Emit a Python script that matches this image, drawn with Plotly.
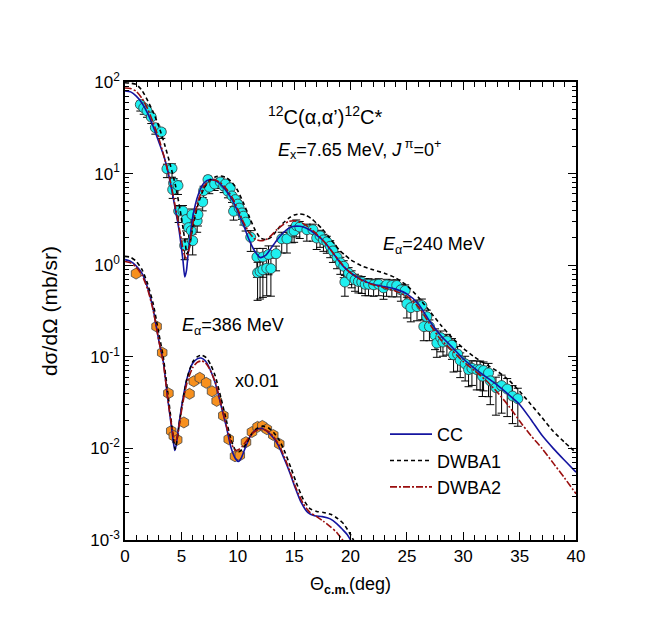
import numpy as np
import plotly.graph_objects as go

# ---------------- data: E_alpha = 240 MeV (experimental) ----------------
theta_240 = [1.36, 1.66, 1.95, 2.33, 2.69, 3.22, 3.72, 4.17, 4.23, 4.31, 4.70, 4.76, 5.14, 5.29,
             5.41, 5.64, 5.88, 5.94, 6.00, 6.40, 6.47, 6.89, 6.97, 7.36, 7.48, 7.95, 8.45, 8.75,
             8.90, 9.13, 9.34, 9.49, 9.63, 9.78, 10.0, 10.13, 10.37, 10.5, 10.7, 11.15, 11.70,
             11.76, 11.98, 12.23, 12.23, 12.57, 12.73, 12.94, 13.40, 13.9, 14.36, 14.8, 15.0,
             15.19, 15.5, 16.13, 16.67, 17.0, 17.3, 17.6, 17.9, 18.2, 18.44, 18.8, 19.1, 19.4,
             19.5, 19.83, 20.1, 20.4, 20.7, 21.0, 21.3, 21.6, 22.05, 22.5, 22.93, 23.2, 23.67,
             24.1, 24.47, 24.85, 25.0, 25.35, 25.9, 26.33, 26.5, 26.77, 27.0, 27.5, 27.66, 28.0,
             28.2, 28.55, 29.0, 29.14, 29.5, 29.73, 30.17, 30.47, 30.77, 31.2, 31.5, 31.7, 31.8,
             32.24, 32.4, 32.9, 33.4, 33.9, 34.37, 34.84]
xs_240 = [56.7, 52.3, 48.5, 41.4, 31.7, 28.5, 11.3, 11.4, 6.7, 7.9, 7.4, 3.9, 3.9, 1.64,
          3.15, 2.57, 2.38, 3.57, 1.85, 3.05, 3.57, 4.9, 6.5, 8.6, 7.1, 7.7, 8.1, 7.3,
          7.7, 6.4, 7.0, 5.7, 3.88, 5.2, 4.65, 4.2, 3.72, 3.43, 2.95, 2.02, 1.23,
          0.827, 0.855, 0.891, 1.23, 0.927, 1.31, 0.918, 1.335, 1.94, 1.94, 2.34, 2.37,
          2.71, 2.61, 2.44, 2.44, 1.98, 2.09, 1.89, 1.80, 1.61, 1.43, 1.22, 1.06, 0.973,
          0.655, 0.818, 0.755, 0.692, 0.664, 0.655, 0.619, 0.619, 0.61, 0.619, 0.566, 0.61, 0.601,
          0.601, 0.539, 0.53, 0.379, 0.344, 0.353, 0.362, 0.214, 0.274, 0.214, 0.171, 0.141, 0.162,
          0.145, 0.149, 0.134, 0.105, 0.107, 0.0912, 0.0838, 0.0725, 0.0749, 0.0725, 0.0725,
          0.0614, 0.0708, 0.0667, 0.0546, 0.0461, 0.0485, 0.0445, 0.0373, 0.0349]
# relative uncertainty (fraction) of each point
relerr_240 = [0.15, 0.15, 0.15, 0.15, 0.15, 0.15, 0.2, 0.2, 0.2, 0.2, 0.2, 0.25, 0.25, 0.3,
              0.25, 0.25, 0.25, 0.25, 0.3, 0.25, 0.25, 0.2, 0.2, 0.15, 0.15, 0.15, 0.15, 0.15,
              0.15, 0.15, 0.15, 0.15, 0.2, 0.15, 0.15, 0.15, 0.15, 0.2, 0.2, 0.3, 0.4,
              0.5, 0.5, 0.5, 0.4, 0.5, 0.4, 0.5, 0.35, 0.3, 0.3, 0.25, 0.25,
              0.25, 0.25, 0.25, 0.25, 0.25, 0.25, 0.25, 0.25, 0.25, 0.25, 0.25, 0.25, 0.25,
              0.3, 0.25, 0.25, 0.25, 0.25, 0.25, 0.25, 0.25, 0.25, 0.25, 0.25, 0.25, 0.25,
              0.25, 0.25, 0.25, 0.3, 0.3, 0.3, 0.3, 0.3, 0.3, 0.3, 0.3, 0.3, 0.3,
              0.3, 0.3, 0.3, 0.35, 0.35, 0.35, 0.35, 0.35, 0.35, 0.4, 0.4, 0.4, 0.4,
              0.45, 0.45, 0.5, 0.5, 0.5, 0.5, 0.5]

# ---------------- data: E_alpha = 386 MeV (x0.01) ----------------
theta_386 = [0.98, 2.8, 3.3, 3.85, 4.1, 4.33, 4.63, 5.22, 5.72, 6.1, 6.63, 7.2, 7.72, 8.13,
             8.72, 9.2, 9.76, 10.18, 10.73, 11.26, 11.76, 12.18, 12.58, 13.15, 13.68]
xs_386 = [0.81, 0.214, 0.111, 0.040, 0.0155, 0.0137, 0.0124, 0.0192, 0.0394, 0.054, 0.059,
          0.052, 0.042, 0.033, 0.0228, 0.0126, 0.0082, 0.0084, 0.0117, 0.0151, 0.0172,
          0.0176, 0.0162, 0.0140, 0.0112]

# ---------------- calculations, 240 MeV ----------------
cc240_x = [0, 0.5, 1, 1.5, 2, 2.5, 3, 3.5, 4, 4.5, 4.8, 5.0, 5.15, 5.3, 5.45, 5.6, 5.8, 6, 6.5,
           7, 7.5, 8, 8.5, 9, 9.5, 10, 10.5, 11, 11.5, 12, 12.5, 13, 13.5, 14, 14.5, 15, 15.5,
           16, 16.5, 17, 17.5, 18, 18.5, 19, 19.5, 20, 21, 22, 23, 24, 25, 26, 27, 28, 29, 30,
           31, 32, 33, 34, 35, 36, 37, 38, 39, 40]
cc240_y = [80, 78, 70, 59, 45.8, 32.8, 22.1, 14.8, 8.2, 3.87, 2.39, 1.56, 1.1, 0.745, 0.874,
           1.335, 2.19, 3.33, 5.9, 7.9, 8.6, 8.4, 7.6, 6.4, 5.2, 3.87, 2.76, 1.9, 1.43, 1.21,
           1.29, 1.56, 1.9, 2.23, 2.52, 2.66, 2.66, 2.57, 2.38, 2.13, 1.9, 1.61, 1.335, 1.1,
           0.936, 0.827, 0.692, 0.619, 0.584, 0.548, 0.486, 0.379, 0.248, 0.171, 0.128, 0.0952,
           0.0749, 0.0606, 0.0493, 0.0389, 0.0302, 0.0207, 0.0138, 0.00995, 0.00737, 0.0055]

dw1_240_x = [0, 0.5, 1, 1.5, 2, 2.5, 3, 3.5, 4, 4.5, 5, 5.3, 5.5, 5.7, 6, 6.5, 7, 7.5, 8, 8.5,
             9, 9.5, 10, 10.5, 11, 11.5, 12, 12.5, 13, 13.5, 14, 14.5, 15, 15.5, 16, 16.5, 17,
             17.5, 18, 18.5, 19, 19.5, 20, 21, 22, 23, 24, 25, 26, 27, 28, 29, 30, 31, 32, 33, 34,
             35, 36, 37, 38, 39, 40]
dw1_240_y = [98, 97, 94, 81, 63, 46.9, 32.8, 21.1, 12.7, 7.2, 3.33, 1.9, 1.335, 1.52, 2.57, 4.7,
             6.9, 8.4, 9.2, 9.4, 9.0, 8.0, 6.5, 4.8, 3.43, 2.48, 1.99, 1.9, 2.04, 2.43, 2.86, 3.25,
             3.53, 3.63, 3.53, 3.25, 2.86, 2.48, 2.09, 1.76, 1.47, 1.29, 1.15, 0.982, 0.892, 0.818,
             0.728, 0.601, 0.449, 0.318, 0.223, 0.162, 0.124, 0.0994, 0.0828, 0.0699, 0.0562,
             0.042, 0.0302, 0.0216, 0.0153, 0.0116, 0.009]

dw2_240_x = [0, 0.5, 1, 1.5, 2, 2.5, 3, 3.5, 4, 4.5, 5, 5.2, 5.4, 5.6, 5.8, 6, 6.5, 7, 7.5, 8,
             8.5, 9, 9.5, 10, 10.5, 11, 11.5, 12, 12.5, 13, 13.5, 14, 14.5, 15, 15.5, 16, 16.5,
             17, 17.5, 18, 18.5, 19, 19.5, 20, 21, 22, 23, 24, 25, 26, 27, 28, 29, 30, 31, 32, 33,
             34, 35, 36, 37, 38, 39, 40]
dw2_240_y = [86, 85, 79, 66.5, 51.2, 36, 24.2, 14.8, 8.5, 4.1, 1.9, 1.38, 1.19, 1.335, 1.9, 2.76,
             5.1, 7.3, 8.3, 8.5, 7.9, 6.8, 5.5, 4.1, 2.95, 2.28, 1.94, 1.85, 1.9, 2.13, 2.47, 2.76,
             3.0, 3.05, 2.95, 2.76, 2.47, 2.19, 1.9, 1.61, 1.335, 1.12, 0.945, 0.827, 0.683, 0.61,
             0.566, 0.521, 0.459, 0.353, 0.231, 0.154, 0.118, 0.0887, 0.0708, 0.0554, 0.0413,
             0.0294, 0.0199, 0.0138, 0.00995, 0.00686, 0.00472, 0.0032]

# ---------------- calculations, 386 MeV (x0.01) ----------------
cc386_x = [0, 0.5, 1, 1.5, 2, 2.5, 3, 3.4, 3.8, 4.1, 4.3, 4.42, 4.55, 4.75, 5.1, 5.5, 6, 6.4,
           6.75, 7.1, 7.5, 8, 8.5, 9, 9.4, 9.8, 10.05, 10.3, 10.7, 11.1, 11.6, 12.1, 12.6, 13.1,
           13.6, 14.1, 14.6, 15.1, 15.6, 16.2, 16.8, 17.5, 18.2, 18.8, 19.3, 19.7, 20.1, 20.5]
cc386_y = [1.15, 1.1, 0.98, 0.82, 0.57, 0.33, 0.15, 0.088, 0.034, 0.018, 0.0115, 0.0095, 0.011,
           0.017, 0.033, 0.058, 0.085, 0.095, 0.097, 0.091, 0.075, 0.052, 0.03, 0.017, 0.0102,
           0.0077, 0.0072, 0.0078, 0.0104, 0.0135, 0.016, 0.0166, 0.0153, 0.0133, 0.0108, 0.0078,
           0.0055, 0.0037, 0.0026, 0.002, 0.00184, 0.0018, 0.0017, 0.0015, 0.0013, 0.00115,
           0.00095, 0.00075]

dw1_386_x = [0, 0.5, 1, 1.5, 2, 2.5, 3, 3.4, 3.8, 4.1, 4.3, 4.45, 4.6, 4.8, 5.1, 5.5, 6, 6.4,
             6.8, 7.2, 7.6, 8, 8.5, 9, 9.4, 9.8, 10.1, 10.4, 10.8, 11.2, 11.7, 12.2, 12.7, 13.2,
             13.7, 14.2, 14.7, 15.2, 15.8, 16.4, 17, 17.6, 18.3, 18.9, 19.4, 19.9, 20.3, 20.7]
dw1_386_y = [1.25, 1.22, 1.1, 0.9, 0.63, 0.38, 0.18, 0.098, 0.04, 0.02, 0.013, 0.0098, 0.012,
             0.018, 0.032, 0.058, 0.088, 0.1, 0.104, 0.098, 0.082, 0.062, 0.036, 0.02, 0.0125,
             0.0095, 0.0092, 0.0098, 0.0115, 0.0142, 0.0165, 0.0175, 0.0168, 0.0148, 0.0122,
             0.009, 0.0062, 0.0042, 0.0028, 0.0022, 0.00205, 0.002, 0.0019, 0.0017, 0.0015,
             0.0012, 0.00098, 0.0008]

dw2_386_x = [0, 0.5, 1, 1.5, 2, 2.5, 3, 3.4, 3.8, 4.1, 4.3, 4.45, 4.6, 4.8, 5.1, 5.5, 6, 6.4,
             6.75, 7.1, 7.5, 8, 8.5, 9, 9.4, 9.8, 10.05, 10.4, 10.8, 11.3, 11.8, 12.2, 12.7, 13.2,
             13.7, 14.2, 14.7, 15.2, 15.8, 16.4, 17, 17.6, 18.2, 18.8, 19.3, 19.7, 20.1]
dw2_386_y = [1.1, 1.06, 0.95, 0.78, 0.55, 0.32, 0.15, 0.085, 0.034, 0.019, 0.0135, 0.0118,
             0.0128, 0.0175, 0.03, 0.052, 0.076, 0.087, 0.09, 0.087, 0.074, 0.053, 0.031, 0.0175,
             0.0115, 0.0095, 0.0097, 0.0105, 0.0122, 0.0146, 0.016, 0.0163, 0.0153, 0.0133,
             0.0107, 0.0077, 0.0053, 0.0036, 0.0025, 0.002, 0.0018, 0.0016, 0.0014, 0.0012, 0.001,
             0.00085, 0.0007]

# ---------------- axes ticks ----------------
x_major = [0, 5, 10, 15, 20, 25, 30, 35, 40]
x_labels = ["0", "5", "10", "15", "20", "25", "30", "35", "40"]
y_major = [1e-3, 1e-2, 1e-1, 1e0, 1e1, 1e2]
y_labels = ["10<sup>-3</sup>", "10<sup>-2</sup>", "10<sup>-1</sup>", "10<sup>0</sup>",
            "10<sup>1</sup>", "10<sup>2</sup>"]
y_minor = [m * 10.0 ** e for e in range(-3, 2) for m in range(2, 10)]

FONT = "Liberation Sans, Arial, Helvetica, sans-serif"
BLUE = "#1414a0"
RED = "#9a0e0e"
CYAN = "#1ef0f0"
ORANGE = "#f7901e"

fig = go.Figure()

th240 = np.array(theta_240)
y240 = np.array(xs_240)
re240 = np.array(relerr_240)

fig.add_trace(go.Scatter(
    x=th240, y=y240, mode="markers", showlegend=False,
    marker=dict(symbol="circle", size=10, color=CYAN, line=dict(color="#333333", width=0.8)),
    error_y=dict(type="data", symmetric=False, array=y240 * re240 * 0.6,
                 arrayminus=y240 * re240, color="black", thickness=1, width=4),
))

fig.add_trace(go.Scatter(
    x=theta_386, y=xs_386, mode="markers", showlegend=False,
    marker=dict(symbol="hexagon", size=11, color=ORANGE, line=dict(color="#444444", width=0.8)),
))

line_cc = dict(color=BLUE, width=1.6)
line_d1 = dict(color="black", width=1.6, dash="4px,3px")
line_d2 = dict(color=RED, width=1.6, dash="7px,2px,2px,2px")

for xx, yy, ln, nm, show in [
    (cc386_x, cc386_y, line_cc, "CC", False),
    (dw1_386_x, dw1_386_y, line_d1, "DWBA1", False),
    (dw2_386_x, dw2_386_y, line_d2, "DWBA2", False),
    (cc240_x, cc240_y, line_cc, "CC", True),
    (dw1_240_x, dw1_240_y, line_d1, "DWBA1", True),
    (dw2_240_x, dw2_240_y, line_d2, "DWBA2", True),
]:
    fig.add_trace(go.Scatter(x=xx, y=yy, mode="lines", name=nm, showlegend=show,
                             line=dict(shape="spline", smoothing=0.6, **ln)))

fig.update_xaxes(
    range=[0, 40], tickmode="array", tickvals=x_major, ticktext=x_labels,
    ticks="inside", ticklen=8, tickwidth=1.2, tickcolor="black",
    showline=True, linecolor="black", linewidth=1.5, mirror="allticks",
    showgrid=False, zeroline=False,
    minor=dict(dtick=1, ticks="inside", ticklen=5, tickwidth=1, tickcolor="black", showgrid=False),
    tickfont=dict(family=FONT, size=17, color="black"),
    title=dict(text="Θ<sub><b>c.m.</b></sub>(deg)", font=dict(family=FONT, size=18, color="black"),
               standoff=12),
)
fig.update_yaxes(
    type="log", range=[-3, 2], tickmode="array", tickvals=y_major, ticktext=y_labels,
    ticks="inside", ticklen=8, tickwidth=1.2, tickcolor="black",
    showline=True, linecolor="black", linewidth=1.5, mirror="allticks",
    showgrid=False, zeroline=False,
    minor=dict(tickmode="array", tickvals=y_minor, ticks="inside", ticklen=4, tickwidth=1,
               tickcolor="black", showgrid=False),
    tickfont=dict(family=FONT, size=17, color="black"),
    title=dict(text="dσ/dΩ (mb/sr)", font=dict(family=FONT, size=21, color="black"), standoff=27),
)

annotations = [
    dict(x=0.443, y=0.926, text="<sup>12</sup>C(α,α’)<sup>12</sup>C*", size=20),
    dict(x=0.519, y=0.852, text="<i>E</i><sub>x</sub>=7.65 MeV, <i>J</i><sup> π</sup>=0<sup>+</sup>",
         size=18),
    dict(x=0.685, y=0.642, text="<i>E</i><sub>α</sub>=240 MeV", size=18),
    dict(x=0.239, y=0.466, text="<i>E</i><sub>α</sub>=386 MeV", size=18),
    dict(x=0.293, y=0.347, text="x0.01", size=18),
]
fig.update_layout(
    annotations=[dict(xref="paper", yref="paper", showarrow=False, x=a["x"], y=a["y"],
                      xanchor="center", yanchor="middle",
                      text=a["text"], font=dict(family=FONT, size=a["size"], color="black"))
                 for a in annotations],
    width=662, height=636,
    margin=dict(l=117, r=94, t=74, b=104),
    paper_bgcolor="white", plot_bgcolor="white",
    font=dict(family=FONT, size=18, color="black"),
    legend=dict(x=0.5765, y=0.271, xanchor="left", yanchor="top", bgcolor="rgba(0,0,0,0)",
                font=dict(family=FONT, size=18, color="black"), tracegroupgap=0,
                itemwidth=42),
)

fig.write_html("out.html")
